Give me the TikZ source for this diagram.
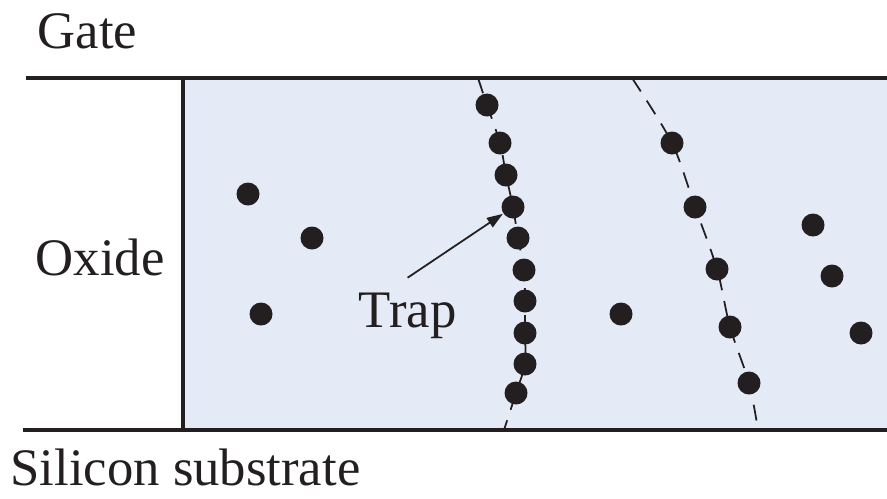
\documentclass[tikz,border=0pt]{standalone}
\usepackage{fontspec}
\setmainfont{Liberation Serif}
\usetikzlibrary{arrows.meta}
\newcommand{\XL}{1.83}
\newcommand{\XR}{8.87}
\newcommand{\YT}{4.20}
\newcommand{\YB}{0.68}
\definecolor{oxfill}{RGB}{228,234,246}
\definecolor{dotblk}{RGB}{35,31,32}

\begin{document}
\begin{tikzpicture}[
    >={Triangle[length=1.6mm,width=1.1mm]},
    edge/.style={draw=dotblk, line width=1pt},
    guide/.style={draw=dotblk, dashed, dash pattern=on 1.6mm off 1.1mm, line width=0.5pt},
    trap/.style={circle, fill=dotblk, minimum size=2.3mm, inner sep=0pt},
    tag/.style={font=\fontsize{15}{18}\selectfont, text=dotblk, inner sep=4pt},
  ]
  \useasboundingbox (0,0) rectangle (\XR,4.98);

  %% ================= the oxide layer =================
  \fill[oxfill] (\XL,\YB) rectangle (\XR,\YT);

  % two chains of traps that line up into a path
  \draw[guide] plot[smooth] coordinates {(4.78,\YT) (4.87,3.93) (5.00,3.55) (5.06,3.23) (5.13,2.91)
    (5.18,2.60) (5.24,2.28) (5.25,1.97) (5.25,1.65) (5.25,1.34) (5.16,1.05) (5.04,\YB)};
  \draw[guide] plot[smooth] coordinates {(6.32,\YT) (6.72,3.55) (6.95,2.91) (7.17,2.29)
    (7.30,1.71) (7.49,1.15) (7.58,\YB)};

  \foreach \x/\y [count=\i] in {4.87/3.93, 5.00/3.55, 5.06/3.23, 5.13/2.91, 5.18/2.60,
      5.24/2.28, 5.25/1.97, 5.25/1.65, 5.25/1.34, 5.16/1.05} {
    \node[trap] (a\i) at (\x,\y) {};
  }
  \foreach \x/\y [count=\i] in {6.72/3.55, 6.95/2.91, 7.17/2.29, 7.30/1.71, 7.49/1.15} {
    \node[trap] (b\i) at (\x,\y) {};
  }
  % isolated traps
  \foreach \x/\y [count=\i] in {2.48/3.04, 3.12/2.60, 2.61/1.84, 6.21/1.84,
      8.13/2.73, 8.32/2.22, 8.61/1.65} {
    \node[trap] (s\i) at (\x,\y) {};
  }

  % the interfaces
  \draw[edge] (0.26,\YT) -- (\XR,\YT);
  \draw[edge] (0.23,\YB) -- (\XR,\YB);
  \draw[edge] (\XL,\YB) -- (\XL,\YT);

  %% ================= labels =================
  \node[tag, anchor=base west] (gate)  at (0.23,4.50)  {Gate};
  \node[tag, anchor=base west] (oxide) at (0.21,2.23)  {Oxide};
  \node[tag, anchor=base west, inner sep=0.5pt] (subst) at (0.08,0.13) {Silicon substrate};
  \node[tag, anchor=base west] (lbl)   at (3.44,1.71)  {Trap};

  \draw[->, draw=dotblk, line width=0.5pt] (lbl.north) -- (a4);

\end{tikzpicture}
\end{document}
